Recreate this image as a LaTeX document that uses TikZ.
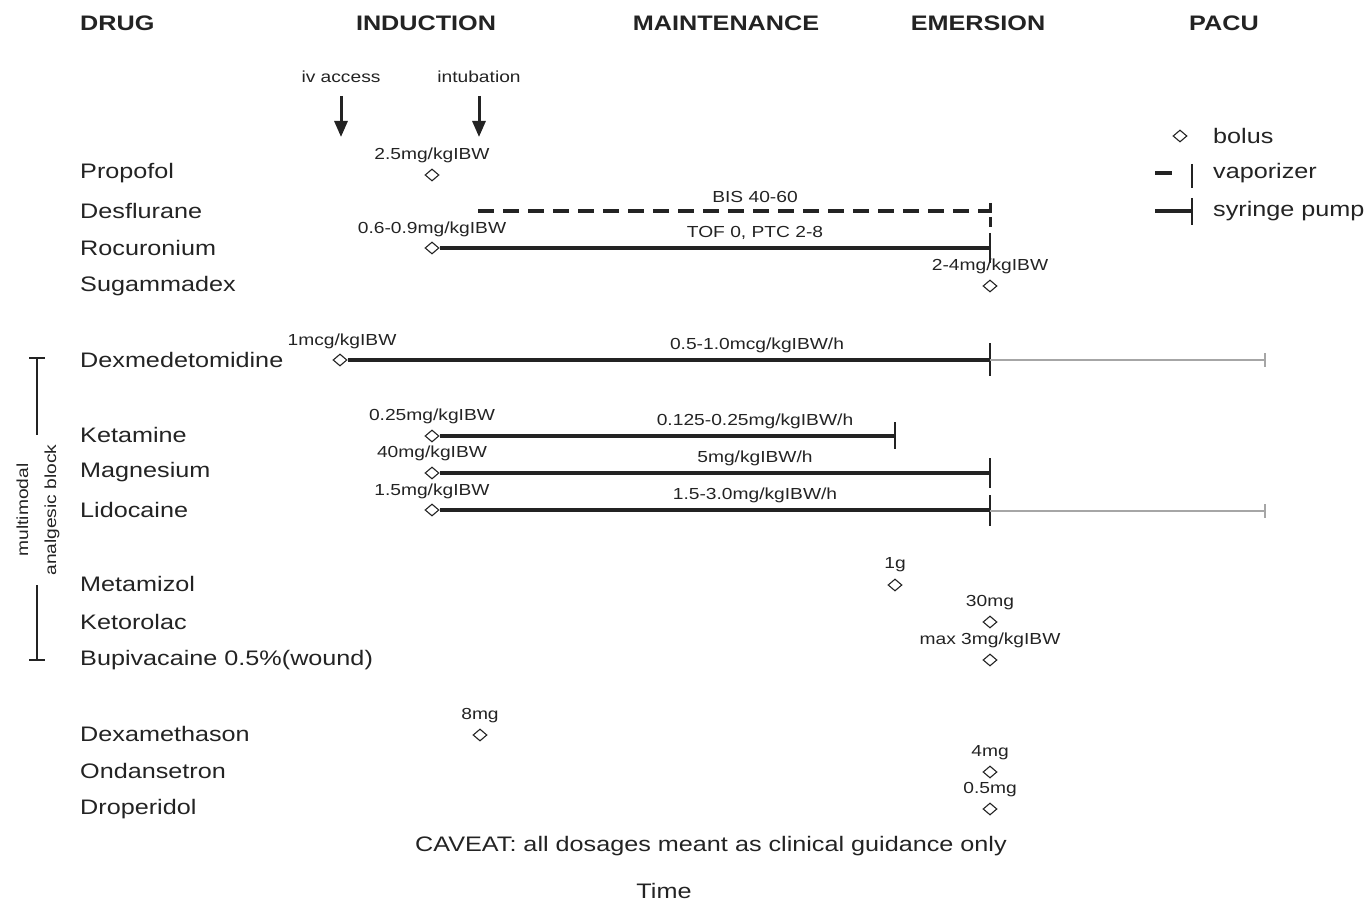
\documentclass[tikz,border=0pt]{standalone}
\usepackage{fontspec}
\setmainfont{Liberation Sans}[FakeStretch=1.2]
\usetikzlibrary{shapes.geometric,arrows.meta}
\definecolor{ink}{RGB}{35,35,35}
\begin{document}
\begin{tikzpicture}[x=1pt,y=-1pt,
 hdr/.style={font=\fontsize{21}{24}\selectfont\bfseries,text=ink,inner sep=0},
 drug/.style={font=\fontsize{21}{24}\selectfont,text=ink,anchor=west,inner sep=0},
 lbl/.style={font=\fontsize{16}{18}\selectfont,text=ink,inner sep=0},
 bolus/.style={diamond,draw=ink,line width=1.1pt,minimum width=14pt,minimum height=12pt,inner sep=0},
 pump/.style={ink,line width=3.5pt},
 vap/.style={ink,line width=3.5pt,dash pattern=on 16pt off 9pt},
 tickl/.style={ink,line width=2.8pt},
 post/.style={black!35,line width=1.2pt},
 evt/.style={ink,line width=3pt,-{Triangle[length=16pt,width=13pt]}}
]
\useasboundingbox (0,0) rectangle (1368,901);
% headers
\node[hdr,anchor=west] (hDrug) at (80,23) {DRUG};
\node[hdr] (hInd) at (426,23) {INDUCTION};
\node[hdr] (hMain) at (726,23) {MAINTENANCE};
\node[hdr] (hEm) at (978,23) {EMERSION};
\node[hdr] (hPacu) at (1224,23) {PACU};
% events
\node[lbl] (iv) at (341,77) {iv access};
\node[lbl] (intub) at (479,77) {intubation};
\coordinate (ivA) at (341,96);
\coordinate (ivB) at (341,137);
\coordinate (inA) at (479,96);
\coordinate (inB) at (479,137);
\draw[evt] (ivA) -- (ivB);
\draw[evt] (inA) -- (inB);
% legend
\node[bolus] (lgB) at (1180,136) {};
\node[drug] (lgBt) at (1213,136) {bolus};
\coordinate (lgVa) at (1155,173); \coordinate (lgVb) at (1172,173);
\draw[pump] (lgVa) -- (lgVb);
\draw[tickl] (1192,164) -- (1192,188);
\node[drug] (lgVt) at (1213,173) {vaporizer};
\coordinate (lgPa) at (1155,211); \coordinate (lgPb) at (1192,211);
\draw[pump] (lgPa) -- (lgPb);
\draw[tickl] (1192,198) -- (1192,225);
\node[drug] (lgPt) at (1213,211) {syringe pump};
% drug names
\node[drug] (dProp) at (80,173) {Propofol};
\node[drug] (dDes) at (80,211) {Desflurane};
\node[drug] (dRoc) at (80,248) {Rocuronium};
\node[drug] (dSug) at (80,286) {Sugammadex};
\node[drug] (dDex) at (80,360) {Dexmedetomidine};
\node[drug] (dKet) at (80,435) {Ketamine};
\node[drug] (dMag) at (80,472) {Magnesium};
\node[drug] (dLid) at (80,510) {Lidocaine};
\node[drug] (dMet) at (80,584) {Metamizol};
\node[drug] (dKtr) at (80,622) {Ketorolac};
\node[drug] (dBup) at (80,660) {Bupivacaine 0.5\%(wound)};
\node[drug] (dDxm) at (80,734) {Dexamethason};
\node[drug] (dOnd) at (80,771) {Ondansetron};
\node[drug] (dDro) at (80,809) {Droperidol};
% Propofol
\node[bolus] (bProp) at (432,175) {};
\node[lbl] at (432,155) {2.5mg/kgIBW};
% Desflurane
\coordinate (desA) at (478,211);
\coordinate (desE) at (990,211);
\draw[vap] (desA) -- (desE);
\draw[ink,line width=3pt,dash pattern=on 10pt off 4pt] (990,203) -- (990,228);
\node[lbl] at (755,197) {BIS 40-60};
% Rocuronium
\node[bolus] (bRoc) at (432,248) {};
\coordinate (rocE) at (990,248);
\draw[pump] (bRoc.east) -- (rocE);
\draw[tickl] (990,233) -- (990,263);
\node[lbl] at (432,229) {0.6-0.9mg/kgIBW};
\node[lbl] at (755,233) {TOF 0, PTC 2-8};
% Sugammadex
\node[bolus] (bSug) at (990,286) {};
\node[lbl] at (990,266) {2-4mg/kgIBW};
% Dexmedetomidine
\node[bolus] (bDex) at (340,360) {};
\coordinate (dexE) at (990,360);
\coordinate (dexP) at (1265,360);
\draw[pump] (bDex.east) -- (dexE);
\draw[tickl] (990,343) -- (990,376);
\draw[post] (dexE) -- (dexP);
\draw[post] (1265,353) -- (1265,367);
\node[lbl] at (342,341) {1mcg/kgIBW};
\node[lbl] at (757,345) {0.5-1.0mcg/kgIBW/h};
% Ketamine
\node[bolus] (bKet) at (432,436) {};
\coordinate (ketE) at (895,436);
\draw[pump] (bKet.east) -- (ketE);
\draw[tickl] (895,422) -- (895,449);
\node[lbl] at (432,416) {0.25mg/kgIBW};
\node[lbl] at (755,421) {0.125-0.25mg/kgIBW/h};
% Magnesium
\node[bolus] (bMag) at (432,473) {};
\coordinate (magE) at (990,473);
\draw[pump] (bMag.east) -- (magE);
\draw[tickl] (990,458) -- (990,488);
\node[lbl] at (432,453) {40mg/kgIBW};
\node[lbl] at (755,458) {5mg/kgIBW/h};
% Lidocaine
\node[bolus] (bLid) at (432,510) {};
\coordinate (lidE) at (990,510);
\coordinate (lidP) at (1265,511);
\draw[pump] (bLid.east) -- (lidE);
\draw[tickl] (990,495) -- (990,526);
\draw[post] (990,511) -- (lidP);
\draw[post] (1265,504) -- (1265,518);
\node[lbl] at (432,491) {1.5mg/kgIBW};
\node[lbl] at (755,495) {1.5-3.0mg/kgIBW/h};
% boluses
\node[bolus] (bMet) at (895,585) {};
\node[lbl] at (895,565) {1g};
\node[bolus] (bKtr) at (990,622) {};
\node[lbl] at (990,603) {30mg};
\node[bolus] (bBup) at (990,660) {};
\node[lbl] at (990,640) {max 3mg/kgIBW};
\node[bolus] (bDxm) at (480,735) {};
\node[lbl] at (480,716) {8mg};
\node[bolus] (bOnd) at (990,772) {};
\node[lbl] at (990,753) {4mg};
\node[bolus] (bDro) at (990,809) {};
\node[lbl] at (990,790) {0.5mg};
% multimodal bracket
\coordinate (brT) at (37,358);
\coordinate (brTm) at (37,435);
\coordinate (brBm) at (37,585);
\coordinate (brB) at (37,660);
\draw[ink,line width=1.5pt] (29,358) -- (45,358);
\draw[ink,line width=1.5pt] (brT) -- (brTm);
\draw[ink,line width=1.5pt] (brBm) -- (brB);
\draw[ink,line width=1.5pt] (29,660) -- (45,660);
\node[lbl,rotate=90,align=center,font=\fontsize{16}{28}\selectfont] (mm) at (38,510) {multimodal\\analgesic block};
% footer
\node[font=\fontsize{21}{24}\selectfont,text=ink,inner sep=0] (cav) at (711,846) {CAVEAT: all dosages meant as clinical guidance only};
\node[font=\fontsize{21}{24}\selectfont,text=ink,inner sep=0] (time) at (664,891) {Time};
\end{tikzpicture}
\end{document}
